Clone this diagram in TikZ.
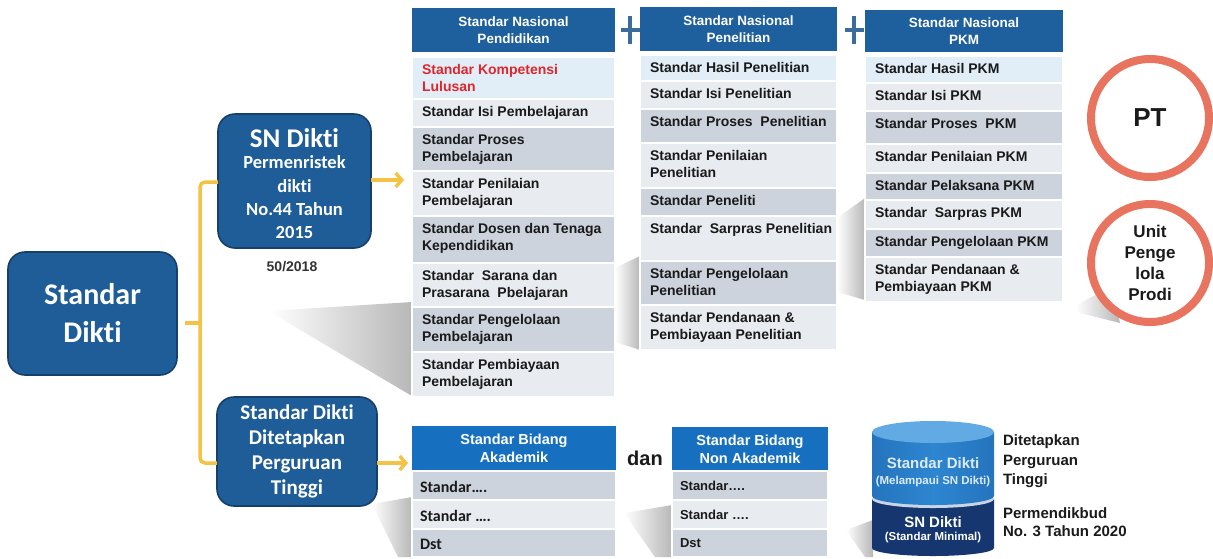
\documentclass[tikz,border=0pt]{standalone}
\usepackage{fontspec}
\setmainfont{Liberation Sans}
\newfontfamily\carl{Carlito}[Ligatures=NoCommon]
\usetikzlibrary{arrows.meta}

\definecolor{boxblue}{HTML}{1F5D98}
\definecolor{boxedge}{HTML}{163F69}
\definecolor{hdrblue}{HTML}{1E5F9E}
\definecolor{hdrbright}{HTML}{1670BF}
\definecolor{rowlb}{HTML}{E1EEF8}
\definecolor{rowlt}{HTML}{E8EBEF}
\definecolor{rowdk}{HTML}{CDD3DD}
\definecolor{redtxt}{HTML}{E0262C}
\definecolor{txt}{HTML}{1A1A1A}
\definecolor{yel}{HTML}{F4C244}
\definecolor{ring}{HTML}{E8735F}
\definecolor{plusblue}{HTML}{3B6D9C}
\definecolor{cylup}{HTML}{2E86D0}
\definecolor{cylupd}{HTML}{2474BD}
\definecolor{cyltop}{HTML}{62AAE4}
\definecolor{cyldn}{HTML}{15366E}
\definecolor{cylrim}{HTML}{C9D5E3}
\definecolor{cyltxt}{HTML}{DCEBFA}

\newcommand\fsz[2]{\fontsize{#1}{#2}\selectfont}
% one table row: [text options]{name}{x1}{y1}{x2}{y2}{fill}{text}
\newcommand\stdrow[8][]{%
  \path[fill=#7,draw=white,line width=1.2pt] (#3,#4) rectangle (#5,#6);
  \node[rowtxt,#1] (#2) at ({#3+10},{#4+7}) {#8};}

\begin{document}
\begin{tikzpicture}[x=1pt,y=-1pt,
  every node/.style={inner sep=0pt,outer sep=0pt},
  rbox/.style={draw=boxedge,line width=1.6pt,fill=boxblue,rounded corners=17pt,
    text=white,align=center},
  hdr/.style={fill=hdrblue,text=white,align=center,anchor=north west,
    font=\fsz{13.5}{17}\bfseries},
  hdrb/.style={hdr,fill=hdrbright,font=\fsz{14.5}{18}\bfseries},
  rowtxt/.style={anchor=north west,align=left,text=txt,font=\fsz{14}{17}\bfseries},
  yline/.style={draw=yel,line width=3.5pt},
  yarrow/.style={yline,-{Straight Barb[length=6pt,width=14pt]}},
  plussign/.style={draw=plusblue,line width=4pt},
  ringc/.style={circle,draw=ring,line width=8pt,fill=white,minimum size=118pt,
    text=txt,align=center},
  shadowfill/.style={left color=white,right color=black!28},
  plain/.style={text=txt,font=\fsz{15}{19.5}\bfseries,align=left},
]
\useasboundingbox (0,0) rectangle (1213,558);

% soft cast shadows behind the tables and shapes
\shade[shadowfill] (268,311) -- (412,302) -- (412,396) -- cycle;
\shade[shadowfill] (615,268) -- (640,256) -- (640,350) -- (615,342) -- cycle;
\shade[shadowfill] (837,218) -- (865,198) -- (865,300) -- (837,292) -- cycle;
\shade[shadowfill] (1075,306) -- (1112,286) -- (1120,323) -- (1080,313) -- cycle;
\shade[shadowfill] (372,504) -- (412,497) -- (412,557) -- (398,557) -- cycle;
\shade[shadowfill] (624,513) -- (672,505) -- (672,557) -- (655,557) -- cycle;
\shade[shadowfill] (846,530) -- (873,520) -- (873,557) -- (865,557) -- cycle;

% left-hand boxes
\node[rbox,minimum width=169pt,minimum height=123pt,font=\carl\fsz{30}{38}\bfseries]
  (sd) at (92.5,313.5) {Standar\\Dikti};
\node[rbox,minimum width=153pt,minimum height=134pt] (sn) at (294.5,181) {};
\node[text=white,font=\carl\fsz{27}{30}\bfseries] (snt) at (294.5,138) {SN Dikti};
\node[text=white,align=center,font=\carl\fsz{18.5}{23.3}\bfseries]
  (snb) at (294.5,197.5) {Permenristek\\dikti\\No.44 Tahun\\2015};
\node[text=black!80,font=\fsz{14}{16}\bfseries] (sny) at (292,267) {50/2018};
\node[rbox,minimum width=160pt,minimum height=109pt,font=\carl\fsz{21}{25}\bfseries]
  (ptb) at (297,451.5) {Standar Dikti\\Ditetapkan\\Perguruan\\Tinggi};

% yellow bracket and arrows
\coordinate (jt) at (200,182);
\coordinate (jm) at (200,323);
\coordinate (jb) at (200,463);
\coordinate (at) at (404,180);
\coordinate (ab) at (408,463);
\draw[yline,rounded corners=5pt] (jt -| sn.west) -- (jt) -- (jb) -- (jb -| ptb.west);
\draw[yline] ([xshift=8pt]sd.east |- jm) -- (jm);
\draw[yarrow] (sn.east |- at) -- (at);
\draw[yarrow] (ptb.east |- ab) -- (ab);

% Standar Nasional Pendidikan
\node[hdr,minimum width=203pt,minimum height=44pt] (h1) at (412,8) {Standar Nasional\\Pendidikan};
\stdrow[text=redtxt]{p1}{412}{57}{615}{99}{rowlb}{Standar Kompetensi\\Lulusan}
\stdrow{p2}{412}{99}{615}{127}{rowlt}{Standar Isi Pembelajaran}
\stdrow{p3}{412}{127}{615}{171}{rowdk}{Standar Proses\\Pembelajaran}
\stdrow{p4}{412}{171}{615}{216}{rowlt}{Standar Penilaian\\Pembelajaran}
\stdrow{p5}{412}{216}{615}{263}{rowdk}{Standar Dosen dan Tenaga\\Kependidikan}
\stdrow{p6}{412}{263}{615}{307}{rowlt}{Standar~ Sarana dan\\Prasarana~ Pbelajaran}
\stdrow{p7}{412}{307}{615}{352}{rowdk}{Standar Pengelolaan\\Pembelajaran}
\stdrow{p8}{412}{352}{615}{397}{rowlt}{Standar Pembiayaan\\Pembelajaran}

% Standar Nasional Penelitian
\node[hdr,minimum width=197pt,minimum height=44pt] (h2) at (640,7) {Standar Nasional\\Penelitian};
\stdrow{q1}{640}{55}{837}{81}{rowlb}{Standar Hasil Penelitian}
\stdrow{q2}{640}{81}{837}{109}{rowlt}{Standar Isi Penelitian}
\stdrow{q3}{640}{109}{837}{143}{rowdk}{Standar Proses~ Penelitian}
\stdrow{q4}{640}{143}{837}{188}{rowlt}{Standar Penilaian\\Penelitian}
\stdrow{q5}{640}{188}{837}{216}{rowdk}{Standar Peneliti}
\stdrow{q6}{640}{216}{837}{261}{rowlt}{Standar~ Sarpras Penelitian}
\stdrow{q7}{640}{261}{837}{305}{rowdk}{Standar Pengelolaan\\Penelitian}
\stdrow{q8}{640}{305}{837}{350}{rowlt}{Standar Pendanaan \&\\Pembiayaan Penelitian}

% Standar Nasional PKM
\node[hdr,minimum width=198pt,minimum height=42pt] (h3) at (865,10) {Standar Nasional\\PKM};
\stdrow{r1}{865}{56}{1063}{83}{rowlb}{Standar Hasil PKM}
\stdrow{r2}{865}{83}{1063}{111}{rowlt}{Standar Isi PKM}
\stdrow{r3}{865}{111}{1063}{144}{rowdk}{Standar Proses~ PKM}
\stdrow{r4}{865}{144}{1063}{173}{rowlt}{Standar Penilaian PKM}
\stdrow{r5}{865}{173}{1063}{200}{rowdk}{Standar Pelaksana PKM}
\stdrow{r6}{865}{200}{1063}{229}{rowlt}{Standar~ Sarpras PKM}
\stdrow{r7}{865}{229}{1063}{257}{rowdk}{Standar Pengelolaan PKM}
\stdrow{r8}{865}{257}{1063}{302}{rowlt}{Standar Pendanaan \&\\Pembiayaan PKM}

% plus signs between the tables
\coordinate (pl1) at (630,30);
\coordinate (pl2) at (854,30);
\foreach \c in {pl1,pl2}{
  \draw[plussign] ([xshift=-9.5pt]\c) -- ([xshift=9.5pt]\c);
  \draw[plussign] ([yshift=-14pt]\c) -- ([yshift=14pt]\c);
}

% circles
\node[ringc,font=\fsz{26}{28}\bfseries] (pt) at (1150,118) {PT};
\node[ringc,font=\fsz{17}{21}\bfseries] (up) at (1150,263) {Unit\\Penge\\lola\\Prodi};

% Standar Bidang tables
\node[hdrb,minimum width=204pt,minimum height=45pt] (ha) at (412,426) {Standar Bidang\\Akademik};
\path[fill=rowdk,draw=white,line width=1.2pt] (412,471) rectangle (616,500);
\path[fill=rowlt,draw=white,line width=1.2pt] (412,500) rectangle (616,529);
\path[fill=rowdk,draw=white,line width=1.2pt] (412,529) rectangle (616,557);
\node[anchor=west,text=txt,font=\carl\fsz{16}{18}\bfseries] (a1) at (420,486.5) {Standar….};
\node[anchor=west,text=txt,font=\carl\fsz{16}{18}\bfseries] (a2) at (420,515.5) {Standar ….};
\node[anchor=west,text=txt,font=\carl\fsz{16}{18}\bfseries] (a3) at (420,544) {Dst};

\node[text=txt,font=\fsz{20}{22}\bfseries] (dan) at (645,458) {dan};

\node[hdrb,minimum width=156pt,minimum height=44pt] (hb) at (672,427) {Standar Bidang\\Non Akademik};
\path[fill=rowdk,draw=white,line width=1.2pt] (672,471) rectangle (828,500);
\path[fill=rowlt,draw=white,line width=1.2pt] (672,500) rectangle (828,529);
\path[fill=rowdk,draw=white,line width=1.2pt] (672,529) rectangle (828,557);
\node[anchor=west,text=txt,font=\fsz{13}{15}\bfseries] (b1) at (680,486) {Standar….};
\node[anchor=west,text=txt,font=\fsz{13}{15}\bfseries] (b2) at (680,515) {Standar ….};
\node[anchor=west,text=txt,font=\fsz{13}{15}\bfseries] (b3) at (680,543.5) {Dst};

% stacked cylinder
\fill[cyldn] (872,499) -- (872,548) arc[start angle=180,end angle=360,x radius=61pt,y radius=8pt] -- (994,499) -- cycle;
\fill[cylrim] (933,499) ellipse[x radius=61pt,y radius=9pt];
\shade[left color=cylupd,right color=cylupd,middle color=cylup]
  (872,432) -- (872,496) arc[start angle=180,end angle=360,x radius=61pt,y radius=9pt] -- (994,432) -- cycle;
\fill[cyltop] (933,432) ellipse[x radius=61pt,y radius=11pt];
\node[text=cyltxt,font=\fsz{15}{17}\bfseries] (c1) at (933,463) {Standar Dikti};
\node[text=cyltxt,font=\fsz{11.5}{13}\bfseries] (c2) at (933,482) {(Melampaui SN Dikti)};
\node[text=white,font=\fsz{15}{17}\bfseries] (c3) at (933,522) {SN Dikti};
\node[text=white,font=\fsz{11.5}{13}\bfseries] (c4) at (933,538) {(Standar Minimal)};

\node[plain,anchor=west] (dt) at (1003,461.5) {Ditetapkan\\Perguruan\\Tinggi};
\node[plain,anchor=west,font=\fsz{15}{18}\bfseries] (pm) at (1003,522) {Permendikbud\\No. 3 Tahun 2020};
\end{tikzpicture}
\end{document}
